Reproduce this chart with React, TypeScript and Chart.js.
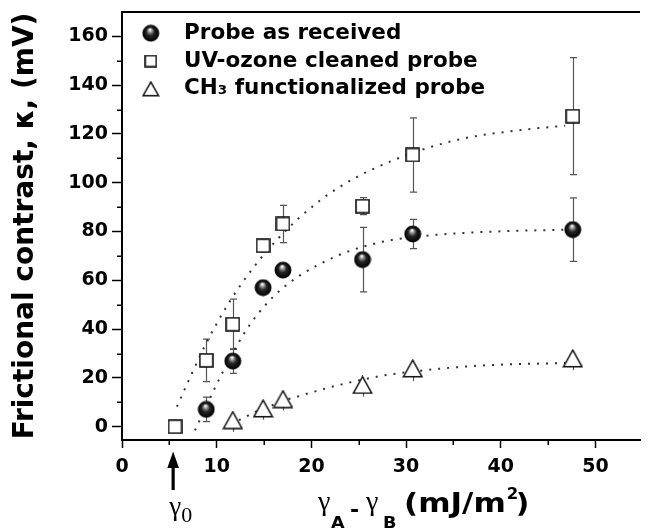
import React, { useEffect, useRef } from 'react';
import { Chart, registerables } from 'chart.js';

Chart.register(...registerables);

// ---- data ----
const seriesLabels = ['Probe as received', 'UV-ozone cleaned probe', 'CH₃ functionalized probe'];

const receivedX = [8.9, 11.7, 14.9, 17.0, 25.4, 30.7, 47.6];
const receivedY = [7.1, 26.9, 57.0, 64.2, 68.5, 79.0, 80.8];
const receivedErr = [5.0, 5.0, 0, 0, 13.2, 6.0, 13.0];

const uvX = [5.6, 8.9, 11.7, 14.9, 17.0, 25.4, 30.7, 47.6];
const uvY = [0, 27.2, 42.0, 74.2, 83.1, 90.4, 111.4, 127.3];
const uvErr = [0, 8.7, 10.3, 2.5, 7.6, 3.5, 15.2, 24.0];

const ch3X = [11.7, 14.9, 17.0, 25.4, 30.7, 47.6];
const ch3Y = [2.7, 7.5, 11.3, 17.1, 23.9, 28.0];
const ch3Err = [4.8, 4.6, 4.6, 4.8, 5.2, 4.8];

// dotted fit curves
const uvCurveX = [5.8, 6.6, 7.4, 8.8, 9.75, 10.7, 11.3, 11.9, 12.6, 13.25, 13.95, 14.7, 16.4, 18.2, 19.15, 20.1, 21.0, 21.8, 24.7, 26.5, 28.4, 30.1, 32.05, 34.8, 36.6, 38.5, 40.4, 42.1, 44.0, 46.8];
const uvCurveY = [8.2, 15.2, 22.0, 33.5, 40.5, 47.0, 50.8, 54.5, 58.5, 62.0, 65.6, 69.3, 76.8, 83.8, 87.2, 90.2, 93.0, 95.3, 102.2, 105.6, 108.8, 111.4, 114.0, 117.0, 118.6, 119.8, 120.8, 121.6, 122.4, 123.4];

const receivedCurveX = [7.7, 8.5, 9.2, 9.7, 10.65, 12.17, 12.8, 13.5, 14.26, 15.06, 15.9, 16.8, 18.7, 20.5, 22.4, 23.5, 26.8, 28.6, 32.4, 35.5, 38.6, 41.8, 44.9, 46.8];
const receivedCurveY = [-1.5, 5.0, 10.8, 15.0, 22.5, 33.5, 37.6, 41.8, 45.8, 49.5, 53.0, 56.3, 61.8, 65.9, 69.5, 71.3, 75.2, 76.6, 78.4, 79.3, 79.9, 80.3, 80.6, 80.8];

const ch3CurveX = [11.5, 12.98, 13.67, 14.5, 15.4, 16.1, 17.1, 18.5, 19.6, 20.9, 22.0, 22.7, 26.5, 27.5, 28.6, 32.05, 34.8, 37.6, 40.4, 43.2, 45.9, 46.8];
const ch3CurveY = [1.0, 3.9, 5.3, 6.8, 8.0, 9.2, 10.8, 12.3, 13.6, 15.0, 16.2, 16.9, 20.2, 20.9, 21.6, 23.2, 24.2, 25.0, 25.5, 25.8, 26.0, 26.1];

// axes
const xMin = 0;
const xMax = 54.7;
const xStep = 10;
const yMin = -5.45;
const yMax = 170;
const yStep = 20;
const xMinorTicks = [5, 15, 25, 35, 45];
const yMinorTicks = [10, 30, 50, 70, 90, 110, 130, 150];
const gamma0X = 5.4;
const yTitle = 'Frictional contrast, κ, (mV)';

const pts = (xs: number[], ys: number[]) => xs.map((x, i) => ({ x, y: ys[i] }));

function makeSphere(d: number) {
  const c = document.createElement('canvas');
  c.width = d; c.height = d;
  const g = c.getContext('2d')!;
  const r = d / 2 - 0.5;
  const cx = d / 2, cy = d / 2;
  const grad = g.createRadialGradient(cx - r * 0.1, cy - r * 0.45, r * 0.05, cx, cy + r * 0.1, r);
  grad.addColorStop(0, '#ffffff');
  grad.addColorStop(0.18, '#a0a0a0');
  grad.addColorStop(0.45, '#262626');
  grad.addColorStop(0.85, '#050505');
  grad.addColorStop(1, '#222');
  g.fillStyle = grad;
  g.beginPath(); g.arc(cx, cy, r, 0, Math.PI * 2); g.fill();
  return c;
}
function makeSquare(s: number) {
  const c = document.createElement('canvas');
  c.width = s; c.height = s;
  const g = c.getContext('2d')!;
  g.fillStyle = '#fff';
  g.fillRect(1, 1, s - 2, s - 2);
  g.strokeStyle = '#111'; g.lineWidth = 1.6;
  g.strokeRect(1, 1, s - 2, s - 2);
  return c;
}
function makeTriangle(w: number, h: number) {
  const c = document.createElement('canvas');
  c.width = w; c.height = h;
  const g = c.getContext('2d')!;
  g.beginPath();
  g.moveTo(w / 2, 1.2); g.lineTo(w - 1.2, h - 1.2); g.lineTo(1.2, h - 1.2); g.closePath();
  g.fillStyle = '#fff'; g.fill();
  g.strokeStyle = '#111'; g.lineWidth = 1.5; g.lineJoin = 'miter'; g.stroke();
  return c;
}

const errorBarPlugin = {
  id: 'errorBars',
  beforeDatasetsDraw(chart: any) {
    const ctx = chart.ctx;
    const xs = chart.scales.x, ys = chart.scales.y;
    ctx.save();
    ctx.strokeStyle = '#555';
    ctx.lineWidth = 1.2;
    chart.data.datasets.forEach((ds: any) => {
      if (!ds.errors) return;
      ds.data.forEach((p: any, j: number) => {
        const e = ds.errors[j];
        if (!e) return;
        const px = Math.round(xs.getPixelForValue(p.x)) + 0.5;
        const t = ys.getPixelForValue(p.y + (ds.lowerOnly ? 0 : e));
        const b = ys.getPixelForValue(p.y - e);
        const cap = ds.capHalf ?? 3.5;
        ctx.beginPath();
        ctx.moveTo(px, t); ctx.lineTo(px, b);
        if (cap) {
          ctx.moveTo(px - cap, t); ctx.lineTo(px + cap, t);
          ctx.moveTo(px - cap, b); ctx.lineTo(px + cap, b);
        }
        ctx.stroke();
      });
    });
    ctx.restore();
  },
};

function drawScaled(ctx: CanvasRenderingContext2D, text: string, x: number, y: number, font: string, sx: number) {
  ctx.save();
  ctx.font = font;
  ctx.translate(x, y);
  ctx.scale(sx, 1);
  ctx.fillText(text, 0, 0);
  const w = ctx.measureText(text).width * sx;
  ctx.restore();
  return w;
}

const decorPlugin = {
  id: 'decor',
  afterDraw(chart: any) {
    const ctx: CanvasRenderingContext2D = chart.ctx;
    const xs = chart.scales.x, ys = chart.scales.y;
    const a = chart.chartArea;
    ctx.save();
    // top frame line
    ctx.strokeStyle = '#000';
    ctx.lineWidth = 2;
    ctx.beginPath(); ctx.moveTo(a.left - 1, a.top); ctx.lineTo(a.right, a.top); ctx.stroke();
    // minor ticks
    ctx.lineWidth = 1.5;
    ctx.beginPath();
    yMinorTicks.forEach((v) => {
      const py = Math.round(ys.getPixelForValue(v)) + 0.25;
      ctx.moveTo(a.left - 5, py); ctx.lineTo(a.left, py);
    });
    xMinorTicks.forEach((v) => {
      const px = Math.round(xs.getPixelForValue(v)) + 0.25;
      ctx.moveTo(px, a.bottom); ctx.lineTo(px, a.bottom + 5);
    });
    ctx.stroke();

    // gamma0 arrow
    ctx.fillStyle = '#000';
    const ax = xs.getPixelForValue(gamma0X);
    ctx.fillRect(ax - 1.6, 465, 3.2, 25);
    ctx.beginPath();
    ctx.moveTo(ax, 451.5); ctx.lineTo(ax + 5.8, 468); ctx.lineTo(ax - 5.8, 468); ctx.closePath(); ctx.fill();
    ctx.textAlign = 'left';
    ctx.textBaseline = 'alphabetic';
    ctx.font = '27px "Liberation Serif"';
    ctx.fillText('γ', ax - 4, 515);
    ctx.font = '22px "Liberation Serif"';
    ctx.fillText('0', ax + 8, 521.5);

    // x-axis title: γA - γB (mJ/m²)
    const sans = (s: number) => `bold ${s}px "DejaVu Sans"`;
    ctx.font = '28px "Liberation Serif"';
    ctx.fillText('γ', 318, 510);
    drawScaled(ctx, 'A', 331, 528, sans(16), 1.1);
    drawScaled(ctx, '-', 350, 517, sans(22), 1.0);
    ctx.font = '28px "Liberation Serif"';
    ctx.fillText('γ', 366, 510);
    drawScaled(ctx, 'B', 383, 528, sans(16), 1.1);
    const w = drawScaled(ctx, '(mJ/m', 404, 512, sans(27), 1.15);
    drawScaled(ctx, '2', 404 + w + 1, 499, sans(15), 1.1);
    drawScaled(ctx, ')', 404 + w + 10, 512, sans(27), 1.1);
    ctx.restore();
  },
};

export default function App() {
  const ref = useRef<HTMLCanvasElement | null>(null);
  useEffect(() => {
    if (!ref.current) return;
    const sphere = makeSphere(18);
    const square = makeSquare(15);
    const tri = makeTriangle(21, 19);
    const legendImgs = [makeSphere(18), makeSquare(13), makeTriangle(18, 16)];
    const font = (size: number) => ({ family: '"DejaVu Sans"', weight: 'bold' as const, size });

    const markerDs = (label: string, xs: number[], ys: number[], errs: number[], img: HTMLCanvasElement, capHalf = 3.5, lowerOnly = false) => ({
      label,
      data: pts(xs, ys),
      errors: errs,
      capHalf,
      lowerOnly,
      pointStyle: img,
      pointRadius: 8,
      borderWidth: 0,
      showLine: false,
    });
    const curveDs = (xs: number[], ys: number[]) => ({
      label: '',
      data: pts(xs, ys),
      showLine: true,
      pointRadius: 0,
      borderColor: '#333',
      borderWidth: 2,
      borderDash: [2, 7],
      cubicInterpolationMode: 'monotone' as const,
      fill: false,
    });

    const chart = new Chart(ref.current, {
      type: 'scatter',
      data: {
        datasets: [
          markerDs(seriesLabels[0], receivedX, receivedY, receivedErr, sphere),
          markerDs(seriesLabels[1], uvX, uvY, uvErr, square),
          markerDs(seriesLabels[2], ch3X, ch3Y, ch3Err, tri, 0, true),
          curveDs(uvCurveX, uvCurveY),
          curveDs(receivedCurveX, receivedCurveY),
          curveDs(ch3CurveX, ch3CurveY),
        ] as any,
      },
      options: {
        animation: false,
        responsive: false,
        devicePixelRatio: 1,
        events: [],
        layout: { padding: { top: 12, left: 0, right: 0, bottom: 0 } },
        plugins: {
          tooltip: { enabled: false },
          legend: {
            position: 'chartArea' as any,
            align: 'start',
            title: { display: true, text: ' ', font: { size: 3 }, padding: { top: 0, bottom: 12.6 } },
            labels: {
              usePointStyle: true,
              pointStyleWidth: 45,
              padding: 6.3,
              color: '#000',
              font: font(21.5),
              filter: (item: any) => item.datasetIndex < 3,
              generateLabels: (c: any) =>
                Chart.defaults.plugins.legend.labels.generateLabels(c).map((l: any) => ({
                  ...l,
                  pointStyle: legendImgs[l.datasetIndex] || l.pointStyle,
                })),
            },
          },
        },
        scales: {
          x: {
            type: 'linear',
            min: xMin,
            max: xMax,
            ticks: { stepSize: xStep, includeBounds: false, font: font(19), color: '#000', padding: 8 },
            grid: { drawOnChartArea: false, tickLength: 8, tickColor: '#000', tickWidth: 1.5 },
            border: { display: true, color: '#000', width: 2 },
            afterFit: (s: any) => { s.height = 89; s.paddingLeft = 0; s.paddingRight = 0; },
          },
          y: {
            type: 'linear',
            min: yMin,
            max: yMax,
            ticks: { stepSize: yStep, includeBounds: false, font: font(19), color: '#000', padding: 4 },
            grid: { drawOnChartArea: false, tickLength: 10, tickColor: '#000', tickWidth: 1.5 },
            border: { display: true, color: '#000', width: 2 },
            title: { display: true, text: yTitle, font: font(28), color: '#000', padding: { top: 9, bottom: 0 } },
            afterFit: (s: any) => { s.width = 122; s.paddingTop = 0; s.paddingBottom = 0; },
          },
        },
      } as any,
      plugins: [errorBarPlugin, decorPlugin],
    });
    return () => chart.destroy();
  }, []);

  return (
    <div style={{ position: 'fixed', left: 0, top: 0, width: 648, height: 529, background: '#fff' }}>
      <canvas ref={ref} width={648} height={529} style={{ display: 'block', width: 648, height: 529 }} />
    </div>
  );
}
